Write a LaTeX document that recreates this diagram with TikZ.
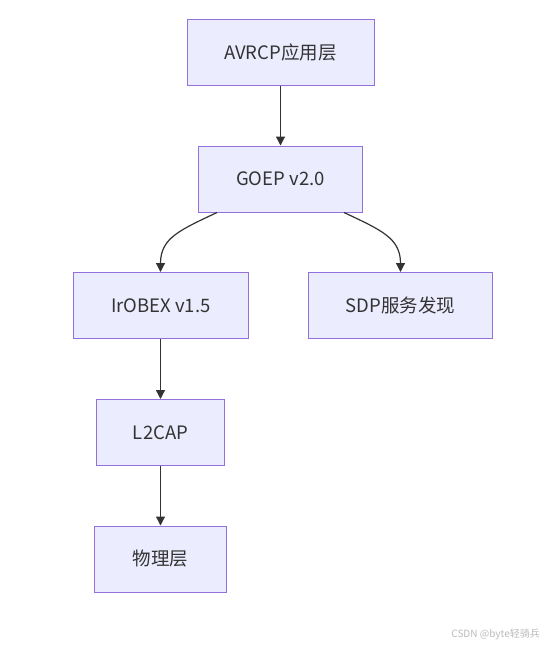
\documentclass[tikz,border=0pt]{standalone}
\usepackage{fontspec}
\setmainfont{Noto Sans CJK SC}
\newfontfamily\wmfont{Noto Sans CJK SC}
\definecolor{nodefill}{HTML}{ECECFF}
\definecolor{nodeborder}{HTML}{9370DB}
\definecolor{edgecol}{HTML}{333333}
\definecolor{wmcol}{HTML}{BBBBBB}
\usetikzlibrary{arrows.meta}
\begin{document}
\begin{tikzpicture}[x=1pt,y=-1pt,
  box/.style={draw=nodeborder, fill=nodefill, line width=1pt, text=edgecol,
    font=\fontsize{18.5}{22}\selectfont, inner sep=0pt, anchor=center},
  edge/.style={draw=edgecol, line width=1.2pt, -{Triangle[length=9pt,width=9pt]}}]
\useasboundingbox (0,0) rectangle (552,646);
\fill[white] (0,0) rectangle (552,646);
\node[box, minimum width=187pt, minimum height=66pt] (avrcp) at (280.5,52) {AVRCP应用层};
\node[box, minimum width=164pt, minimum height=66pt] (goep) at (280.5,179) {GOEP v2.0};
\node[box, minimum width=175pt, minimum height=66pt] (irobex) at (160.8,305.5) {IrOBEX v1.5};
\node[box, minimum width=184pt, minimum height=66pt] (sdp) at (400.7,305.5) {SDP服务发现};
\node[box, minimum width=127.5pt, minimum height=66pt] (l2cap) at (160.5,432.5) {L2CAP};
\node[box, minimum width=132pt, minimum height=66pt] (phy) at (160.5,559) {物理层};
\draw[edge] (avrcp.south) -- (goep.north);
\draw[edge] ([xshift=-63.5pt]goep.south) .. controls (180,230) and (160.5,238) .. ([xshift=-0.3pt]irobex.north);
\draw[edge] ([xshift=63.5pt]goep.south) .. controls (381,230) and (400.5,238) .. ([xshift=-0.2pt]sdp.north);
\draw[edge] ([xshift=-0.3pt]irobex.south) -- (l2cap.north);
\draw[edge] (l2cap.south) -- (phy.north);
\node[text=wmcol, font=\wmfont\fontsize{10}{12}\selectfont, anchor=east, inner sep=0pt] (wm) at (540,634) {CSDN @byte轻骑兵};
\end{tikzpicture}
\end{document}
